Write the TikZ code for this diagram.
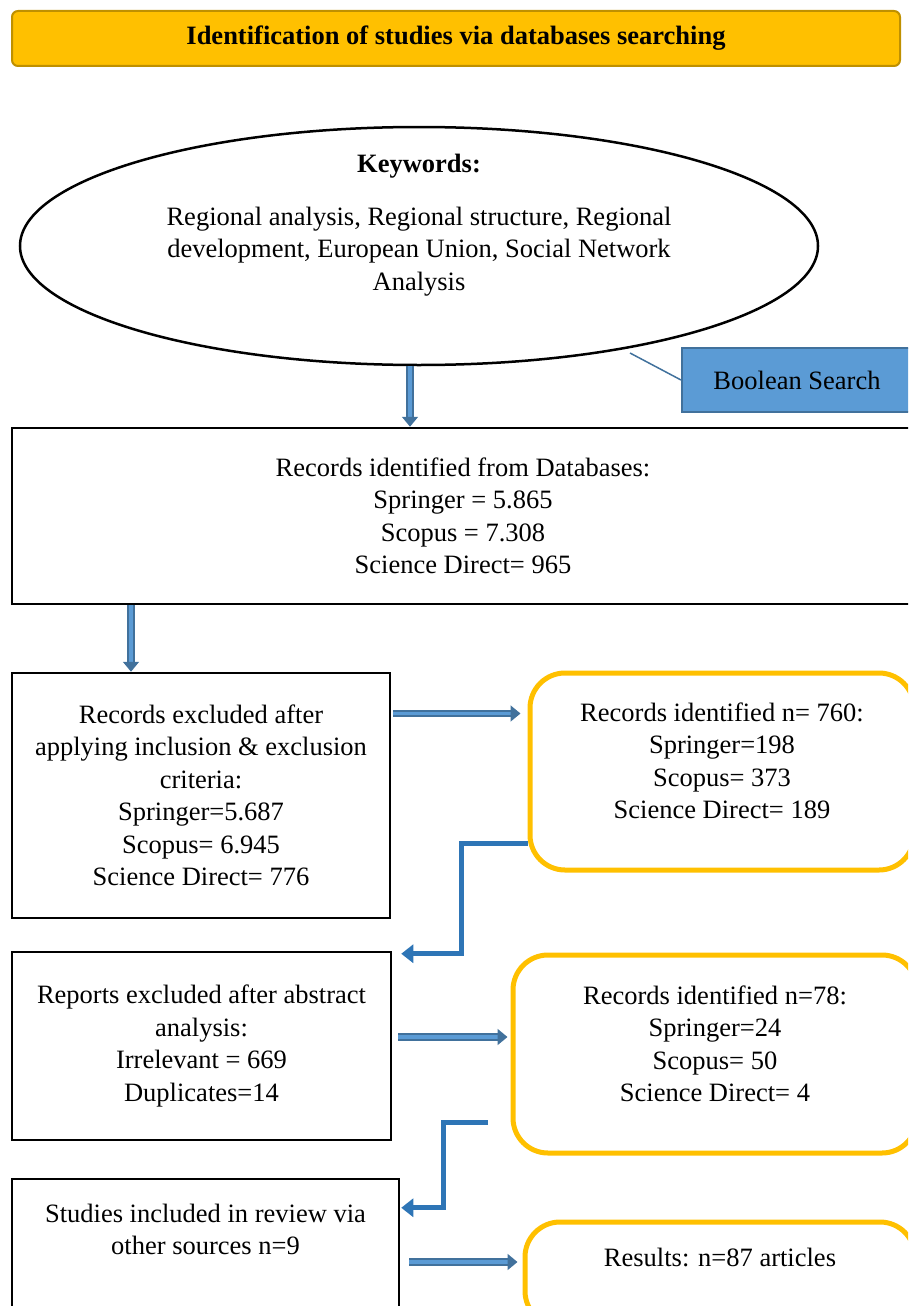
\documentclass[tikz,border=0pt]{standalone}
\usepackage{fontspec}
\setmainfont{Liberation Serif}
\usepackage{tikz}
\usetikzlibrary{arrows.meta,positioning,calc,shapes.geometric}
\definecolor{gold}{HTML}{FFC000}
\definecolor{golddark}{HTML}{BF9000}
\definecolor{bluefill}{HTML}{5B9BD5}
\definecolor{blueedge}{HTML}{41719C}
\definecolor{bluearr}{HTML}{2E75B6}
\newcommand{\txt}{\fontsize{26.5}{32.5}\selectfont}

\begin{document}
\begin{tikzpicture}[x=1pt, y=-1pt,
      every node/.style={font=\txt, align=center, inner sep=0pt},
      head/.style={rectangle, rounded corners=6pt, fill=gold, draw=golddark,
                   line width=2pt, minimum width=888pt, minimum height=55pt},
      kwell/.style={ellipse, draw, line width=2.5pt,
                    minimum width=798pt, minimum height=238pt},
      blue/.style={rectangle, fill=bluefill, draw=blueedge, line width=2pt,
                   minimum width=230pt, minimum height=64pt},
      box/.style={rectangle, draw, line width=2.5pt},
      boxY/.style={rectangle, rounded corners=35pt, draw=gold, line width=5pt},
      dblarr/.style={draw=blueedge, double=bluefill, line width=1.8pt,
                     double distance=3.5pt, -{Triangle[length=10pt,width=16pt]}},
      elb/.style={bluearr, line width=5pt,
                  -{Triangle[length=12pt,width=18pt]}},
    ]
    \useasboundingbox (0,0) rectangle (908,1306);
    \clip (0,0) rectangle (908,1306);

    \node[head] (title) at (456,38.5) {\textbf{Identification of studies via databases searching}};

    \node[kwell] (kw) at (419,246) {};
    \node (kwtxt) at (419,225) {\textbf{Keywords:}\\[20.5pt]
      Regional analysis, Regional structure, Regional\\
      development, European Union, Social Network\\
      Analysis};
    \node[blue] (bool) at (797,380) {Boolean Search};
    \coordinate (boolend) at (630,353);

    \node[box, minimum width=902pt, minimum height=176pt] (db) at (463,516)
      {Records identified from Databases:\\ Springer = 5.865\\ Scopus = 7.308\\ Science Direct= 965};

    \node[box, minimum width=378pt, minimum height=245pt] (excl) at (201,795.5)
      {Records excluded after\\ applying inclusion \& exclusion\\ criteria:\\
       Springer=5.687\\ Scopus= 6.945\\ Science Direct= 776};
    \node[boxY, minimum width=384pt, minimum height=197pt] (id1) at (722,771.5) {};
    \node (id1txt) at (722,761)
      {Records identified n= 760:\\ Springer=198\\ Scopus= 373\\ Science Direct= 189};

    \node[box, minimum width=379pt, minimum height=188pt] (abs) at (201.5,1046)
      {Reports excluded after abstract\\ analysis:\\ Irrelevant = 669\\ Duplicates=14};
    \node[boxY, minimum width=404pt, minimum height=198pt] (id2) at (715,1054) {};
    \node (id2txt) at (715,1044)
      {Records identified n=78:\\ Springer=24\\ Scopus= 50\\ Science Direct= 4};
    \coordinate (id2out) at (488,1122);

    \node[box, minimum width=387pt, minimum height=133pt] (oth) at (205.5,1245.5)
      {Studies included in review via\\ other sources n=9\\ \mbox{}};
    \node[boxY, minimum width=390pt, minimum height=104pt] (res) at (720,1274)
      {Results: n=87 articles\\ \mbox{}};

    % connectors
    \draw[blueedge, line width=1.5pt] (boolend) -- (bool.west);
    \draw[dblarr] ([xshift=-9pt]kw.south) -- ([xshift=-9pt]kw.south |- db.north);
    \draw[dblarr] ([xshift=-70pt]excl.north |- db.south) -- ([xshift=-70pt]excl.north);
    \draw[dblarr, shorten <=2pt, shorten >=7pt] ([yshift=82pt]excl.east) -- ([yshift=82pt]excl.east -| id1.west);
    \draw[dblarr, shorten <=6pt, shorten >=3pt] ([yshift=9pt]abs.east) -- ([yshift=9pt]abs.east -| id2.west);
    \draw[dblarr, shorten <=9pt, shorten >=5pt] ([yshift=-16.5pt]oth.east) -- ([yshift=-16.5pt]oth.east -| res.west);
    \draw[elb] ([yshift=-71.5pt]id1.west) -- ++(-66,0) |- ([shift={(9pt,-3pt)}]abs.north east);
    \draw[elb] (id2out) -- ++(-45,0) |- ([shift={(1pt,-30pt)}]oth.north east);
\end{tikzpicture}
\end{document}
